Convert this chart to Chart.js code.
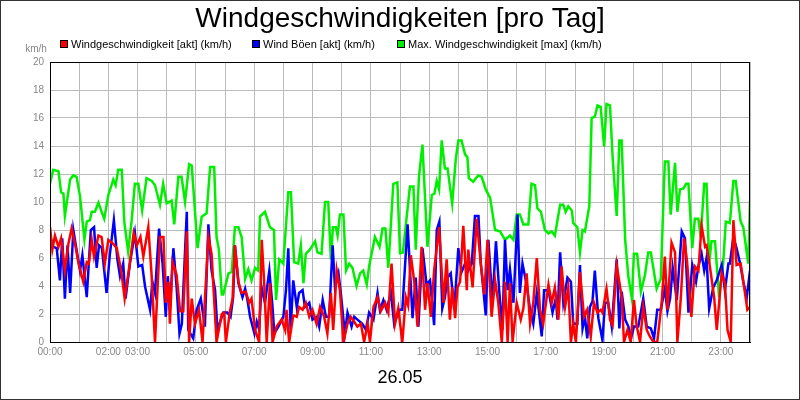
<!DOCTYPE html>
<html>
<head>
<meta charset="utf-8">
<script src="https://cdn.jsdelivr.net/npm/chart.js@4/dist/chart.umd.min.js"></script>
<style>body{margin:0;background:#fff}#c{display:block}</style>
</head>
<body>
<div style="width:800px;height:400px"><canvas id="c" width="800" height="400"></canvas></div>
<script>
var title = "Windgeschwindigkeiten [pro Tag]";
var dayLabel = "26.05";
var seriesNames = ["Windgeschwindigkeit [akt] (km/h)", "Wind Böen [akt] (km/h)", "Max. Windgeschwindigkeit [max] (km/h)"];
var shownHours = [0, 2, 3, 5, 7, 9, 11, 13, 15, 17, 19, 21, 23];

// [hour, km/h]
var akt = [[0,8.2],[.08,6.6],[.17,7.6],[.29,6.8],[.38,7.4],[.51,5.1],[.63,7],[.74,8.1],[.86,7],[.97,5.7],[1.14,4.3],[1.26,5.7],[1.33,5.6],[1.43,7.3],[1.51,6.1],[1.66,7.6],[1.77,7.5],[1.88,5.6],[2,7.3],[2.17,7],[2.29,6.7],[2.44,5.1],[2.56,3.1],[2.7,5.1],[2.87,7.8],[2.98,6.9],[3.1,7.5],[3.2,6.1],[3.37,8.2],[3.48,4.9],[3.6,0],[3.77,7.5],[3.89,7.5],[3.97,2.8],[4.06,4.3],[4.11,1.3],[4.2,5.7],[4.34,4.8],[4.46,2.2],[4.57,2.2],[4.69,7.9],[4.77,0],[4.86,3.1],[4.97,1.3],[5.11,2.3],[5.23,0],[5.43,7.5],[5.54,6.3],[5.71,0],[5.89,2],[5.97,2.1],[6.03,0],[6.17,2.2],[6.26,3.1],[6.34,6.9],[6.46,4.3],[6.57,3.5],[6.71,3.6],[6.83,2.8],[6.91,3.1],[7.03,.86],[7.17,0],[7.26,7.3],[7.34,4.4],[7.43,0],[7.54,4.2],[7.63,0],[7.77,1.1],[7.94,1.6],[8.06,.86],[8.11,2.3],[8.2,0],[8.34,1.9],[8.46,1.8],[8.54,2.5],[8.66,2.3],[8.77,2.8],[8.89,1.8],[9,2.3],[9.14,1.3],[9.26,2.5],[9.4,1.8],[9.51,.6],[9.63,3.5],[9.71,.86],[9.83,5.1],[9.94,3.7],[10.06,0],[10.2,1.3],[10.31,1.8],[10.43,1.45],[10.54,1.1],[10.66,1.3],[10.77,0],[10.89,1.3],[10.97,0],[11.09,2.5],[11.23,3.2],[11.34,2.2],[11.49,2.8],[11.6,2.1],[11.71,5.6],[11.83,1.3],[11.94,2.4],[12.08,0],[12.2,3.2],[12.28,2.6],[12.37,6.2],[12.49,4.3],[12.6,1.1],[12.74,6.8],[12.86,2.3],[12.94,4.2],[13.06,1.8],[13.17,5.1],[13.34,8.2],[13.49,2.8],[13.6,5.9],[13.71,1.6],[13.79,3.9],[13.89,1.7],[13.97,3.9],[14.06,4.3],[14.17,8.3],[14.29,3.7],[14.34,6.6],[14.49,3.9],[14.63,8.8],[14.77,5.6],[14.89,3.4],[15,7.3],[15.14,1.8],[15.26,4.4],[15.37,2.8],[15.49,0],[15.6,4.3],[15.69,0],[15.77,4.2],[15.86,0],[16,2.8],[16.14,1.6],[16.23,2.4],[16.34,4.9],[16.46,1.3],[16.57,2.8],[16.69,6],[16.8,2.3],[16.91,1.3],[17.09,4.1],[17.2,2.8],[17.31,3.9],[17.43,1.6],[17.54,5.4],[17.66,2.5],[17.77,3.9],[17.86,0],[17.94,1.3],[18.03,0],[18.17,5],[18.31,1.8],[18.42,2.3],[18.54,.38],[18.65,2.8],[18.77,2.1],[18.88,2.3],[18.94,2.1],[19.08,3.8],[19.2,1.6],[19.29,1.2],[19.43,5.5],[19.6,3.2],[19.68,0],[19.8,.86],[19.91,0],[20.02,3],[20.11,1.2],[20.23,0],[20.34,2.5],[20.46,.86],[20.57,.38],[20.69,0],[20.82,0],[20.97,2.8],[21.08,6.1],[21.17,2.3],[21.31,7.1],[21.43,6.4],[21.51,0],[21.63,3.2],[21.74,7.4],[21.84,5.8],[21.99,1.8],[22.11,5.4],[22.23,5.1],[22.34,8.3],[22.46,6.8],[22.51,6.9],[22.63,5.3],[22.77,3.2],[22.86,.86],[23.03,4.9],[23.14,4.2],[23.23,.86],[23.34,0],[23.43,8.7],[23.54,5.5],[23.68,5.6],[23.8,3.9],[23.91,2.3],[24,2.5]];

var boeen = [[0,7.6],[.11,6.8],[.23,6.7],[.34,4.4],[.42,7.4],[.51,3.1],[.6,6.9],[.69,3.5],[.8,8],[.91,6.6],[1.03,5.1],[1.11,6.2],[1.26,3.2],[1.4,8],[1.51,8.2],[1.6,5.3],[1.68,6.9],[1.78,6.7],[1.94,3.5],[2.05,6.2],[2.19,8.7],[2.31,5.9],[2.4,4.7],[2.51,5.6],[2.59,3.1],[2.74,5.6],[2.91,7.8],[3.03,5.4],[3.16,5.5],[3.26,3.95],[3.43,2.3],[3.51,4.3],[3.6,3.5],[3.74,8.1],[3.86,5.6],[3.97,1.8],[4.04,4.7],[4.11,2.3],[4.23,6.7],[4.34,3.95],[4.44,.6],[4.52,1.3],[4.69,9.3],[4.74,.86],[4.91,.26],[5.03,2.3],[5.17,3.1],[5.31,1.1],[5.43,8.4],[5.54,5.1],[5.66,3.7],[5.74,.86],[5.89,1.8],[5.94,2.1],[6.08,2.1],[6.19,1.8],[6.28,3.2],[6.34,6.9],[6.46,4.2],[6.6,3.2],[6.69,3.8],[6.77,3],[6.86,1.8],[7.01,.6],[7.09,1.45],[7.17,.9],[7.25,3.95],[7.37,2.8],[7.52,5.1],[7.63,2.5],[7.69,.6],[7.83,1.1],[8,1.8],[8.09,3.7],[8.17,6.7],[8.25,.86],[8.34,4.4],[8.46,2.5],[8.54,3.5],[8.66,3.7],[8.74,2.5],[8.89,2.8],[9,1.6],[9.14,1.8],[9.23,1.1],[9.35,3],[9.46,1.8],[9.57,1.8],[9.69,6.9],[9.77,3.95],[9.89,4.9],[9.97,3.5],[10.11,.6],[10.2,2.1],[10.34,1.1],[10.43,1.8],[10.54,1.6],[10.71,1.3],[10.83,.86],[10.94,2.1],[11.09,1.6],[11.23,3.5],[11.31,2.3],[11.43,3],[11.54,2.3],[11.69,3.5],[11.8,1.3],[11.97,2.3],[12.08,2.3],[12.26,8.4],[12.43,1.7],[12.54,4.6],[12.63,1.1],[12.77,6.7],[12.91,4.1],[13.03,4.4],[13.17,1.2],[13.26,8],[13.35,8.6],[13.45,2.4],[13.54,3.2],[13.63,4.6],[13.74,4.9],[13.86,2.3],[14,6.7],[14.11,5],[14.23,5.6],[14.34,5.1],[14.46,5.6],[14.57,9],[14.69,9],[14.77,5.6],[14.86,3.7],[14.94,1.9],[15.03,7.3],[15.17,2.8],[15.29,7.2],[15.4,3.7],[15.51,.86],[15.6,7.3],[15.69,3.7],[15.77,5.2],[15.89,2.8],[16.03,9.1],[16.11,3.5],[16.2,5.6],[16.34,4.1],[16.46,2.3],[16.57,1.3],[16.69,3.5],[16.86,.4],[16.94,3.7],[17.09,3.7],[17.23,2.1],[17.34,3.1],[17.4,1.6],[17.49,6.4],[17.6,2.8],[17.74,4.6],[17.86,4.3],[17.94,1.3],[18.08,1.3],[18.17,5.5],[18.26,.97],[18.34,1.8],[18.42,.26],[18.51,2.5],[18.6,2.9],[18.68,5.1],[18.8,1.7],[18.94,.14],[19.03,2.8],[19.14,2.8],[19.26,1.1],[19.43,5.9],[19.52,.97],[19.6,3.6],[19.72,1.6],[19.83,1.1],[19.92,.26],[20.02,1.1],[20.17,1.1],[20.34,3.1],[20.46,1.1],[20.6,.97],[20.71,.26],[20.82,2.3],[20.94,2.3],[21.08,3.8],[21.17,2.2],[21.26,3.1],[21.35,5.3],[21.49,3],[21.66,7.9],[21.77,7.4],[21.89,2.1],[22.02,5.5],[22.15,4.3],[22.23,5.4],[22.34,6.3],[22.43,5.1],[22.51,6],[22.6,2.4],[22.74,3.9],[22.86,4.4],[23.03,5.5],[23.14,3.7],[23.26,5.6],[23.31,5.6],[23.43,7.5],[23.54,6.7],[23.66,5.6],[23.77,4.3],[23.89,3.2],[24,5.1]];

var maxWind = [[0,11.3],[.11,12.3],[.29,12.2],[.38,10.7],[.46,10.6],[.51,9],[.69,11.6],[.8,11.9],[.91,11.8],[1.03,10.4],[1.18,7.3],[1.26,8.6],[1.37,8.7],[1.43,9.3],[1.54,9.3],[1.66,9.95],[1.77,9.3],[1.86,8.8],[2,10.5],[2.17,11.6],[2.25,11.2],[2.34,12.3],[2.46,12.3],[2.55,8.5],[2.68,6.45],[2.8,8.7],[2.91,11.3],[3.03,11.3],[3.16,9.4],[3.31,11.7],[3.49,11.5],[3.6,11.2],[3.77,9.8],[3.88,11.3],[4,9.9],[4.17,10.1],[4.26,8.4],[4.4,11.8],[4.51,11.8],[4.63,10],[4.77,12.7],[4.86,12.6],[5.06,6.7],[5.2,8.95],[5.37,9.2],[5.49,12.5],[5.63,12.5],[5.71,7.5],[5.79,6.6],[5.89,3.4],[5.94,3.4],[6.12,4.9],[6.23,5],[6.34,8.2],[6.46,8.2],[6.57,7.5],[6.69,4.5],[6.8,5.2],[6.91,4.4],[7.03,5.3],[7.14,5.1],[7.2,8.96],[7.37,9.3],[7.54,8.2],[7.68,8],[7.75,3],[7.86,5.9],[8,5.6],[8.17,10.7],[8.26,10.7],[8.37,5.7],[8.51,5.6],[8.6,6.9],[8.69,4.2],[8.77,6.3],[8.91,6.6],[9.09,7.2],[9.17,6.4],[9.31,6.3],[9.43,10],[9.54,10],[9.63,5.9],[9.7,8.2],[9.8,8.2],[9.86,7.6],[9.94,9.1],[10.06,9.1],[10.15,5.1],[10.26,5.6],[10.37,5.3],[10.51,4],[10.63,4.9],[10.74,5.1],[10.86,4.1],[10.94,5.4],[11.14,7.5],[11.3,6.8],[11.4,8.1],[11.5,8.1],[11.6,5.3],[11.77,11.3],[11.91,11.4],[12,6.35],[12.1,6.4],[12.34,11.1],[12.46,11.1],[12.54,6.6],[12.65,11.8],[12.77,14.1],[12.94,6.8],[13.09,10.5],[13.18,10.6],[13.26,11.5],[13.34,10.9],[13.43,14.4],[13.54,12.4],[13.63,12.4],[13.79,9.9],[13.91,13],[14,14.4],[14.11,14.4],[14.23,13.4],[14.31,13.2],[14.36,11.7],[14.51,11.45],[14.68,11.9],[14.8,11.8],[14.94,10.9],[15.09,10.3],[15.26,8],[15.43,7.9],[15.6,7.3],[15.77,7.6],[15.89,7.3],[16,9.1],[16.11,9.1],[16.23,8.4],[16.4,8.4],[16.51,11.3],[16.63,11.2],[16.71,9.55],[16.83,9.3],[16.97,8],[17.09,7.76],[17.2,7.9],[17.31,7.6],[17.49,9.8],[17.6,9.8],[17.68,9.3],[17.77,9.7],[17.89,9.4],[17.94,8.5],[18.08,8.2],[18.17,6.4],[18.26,8],[18.34,7.9],[18.49,9.7],[18.57,16],[18.68,16.1],[18.77,16.9],[18.88,16.8],[19,13.95],[19.08,17],[19.2,16.9],[19.29,13.2],[19.43,9],[19.52,14.4],[19.6,14.4],[19.72,7.3],[19.83,4.67],[19.95,3.1],[20.02,6.3],[20.13,6.3],[20.26,3.6],[20.4,4.8],[20.51,6.4],[20.6,6.4],[20.8,3.8],[20.94,4.5],[21.08,12.9],[21.2,12.9],[21.28,9.1],[21.43,12.8],[21.51,9.3],[21.6,10.9],[21.72,10.97],[21.81,11.3],[21.89,11.3],[22.02,6.7],[22.11,8.8],[22.23,8.8],[22.31,7.5],[22.43,11.3],[22.51,11.3],[22.6,5.6],[22.68,7.2],[22.8,7.2],[22.94,3.2],[23.08,5.6],[23.17,8.6],[23.31,8.5],[23.43,11.5],[23.51,11.5],[23.68,8.6],[23.77,8.2],[23.94,5.6],[24,10.1]];

var colors = ["#ff0000", "#0000ff", "#00ee00"];

function pts(arr) {
    return arr.map(function (p) { return {x: p[0], y: p[1]}; });
}

var decor = {
    id: "decor",
    afterDraw: function (chart) {
        var ctx = chart.ctx;
        ctx.save();
        ctx.strokeStyle = "#333";
        ctx.lineWidth = 1;
        ctx.strokeRect(0.5, 0.5, 799, 399);
        var a = chart.chartArea;
        ctx.strokeStyle = "#000";
        ctx.strokeRect(a.left + 0.5, a.top + 0.5, a.right - a.left - 1, a.bottom - a.top);
        ctx.fillStyle = "#000";
        ctx.textAlign = "center";
        ctx.textBaseline = "middle";
        ctx.font = "28px 'Liberation Sans', Arial";
        ctx.fillText(title, 400, 19);
        ctx.font = "18px 'Liberation Sans', Arial";
        ctx.fillText(dayLabel, 400, 378);
        ctx.font = "10px 'Liberation Sans', Arial";
        ctx.fillStyle = "#888";
        ctx.fillText("km/h", 36, 49);
        var lx = [60, 252, 397];
        ctx.font = "11px 'Liberation Sans', Arial";
        ctx.textAlign = "left";
        for (var i = 0; i < 3; i++) {
            ctx.fillStyle = colors[i];
            ctx.fillRect(lx[i], 40, 8, 8);
            ctx.strokeStyle = "#000";
            ctx.strokeRect(lx[i] + 0.5, 40.5, 7, 7);
            ctx.fillStyle = "#000";
            ctx.fillText(seriesNames[i], lx[i] + 11, 44.5);
        }
        ctx.restore();
    }
};

new Chart(document.getElementById("c"), {
    type: "line",
    data: {
        datasets: [
            {label: seriesNames[0], data: pts(akt), borderColor: colors[0]},
            {label: seriesNames[1], data: pts(boeen), borderColor: colors[1]},
            {label: seriesNames[2], data: pts(maxWind), borderColor: colors[2]}
        ]
    },
    options: {
        responsive: false,
        animation: false,
        layout: {padding: {top: 62, right: 50, left: 0, bottom: 0}},
        elements: {point: {radius: 0}, line: {borderWidth: 2.5, tension: 0}},
        plugins: {legend: {display: false}, title: {display: false}, tooltip: {enabled: false}},
        scales: {
            x: {
                type: "linear", min: 0, max: 24,
                afterFit: function (s) { s.height = 58; },
                grid: {color: "#bbb", drawTicks: false},
                border: {color: "#000"},
                ticks: {
                    stepSize: 1, autoSkip: false, maxRotation: 0, color: "#888", padding: 4,
                    font: {size: 10, family: "'Liberation Sans', Arial"},
                    callback: function (v) {
                        return shownHours.indexOf(v) >= 0 ? (v < 10 ? "0" : "") + v + ":00" : "";
                    }
                }
            },
            y: {
                min: 0, max: 20,
                afterFit: function (s) { s.width = 50; },
                grid: {color: "#bbb", drawTicks: false},
                border: {color: "#000"},
                ticks: {stepSize: 2, color: "#888", padding: 6, font: {size: 10, family: "'Liberation Sans', Arial"}}
            }
        }
    },
    plugins: [decor]
});
</script>
</body>
</html>
